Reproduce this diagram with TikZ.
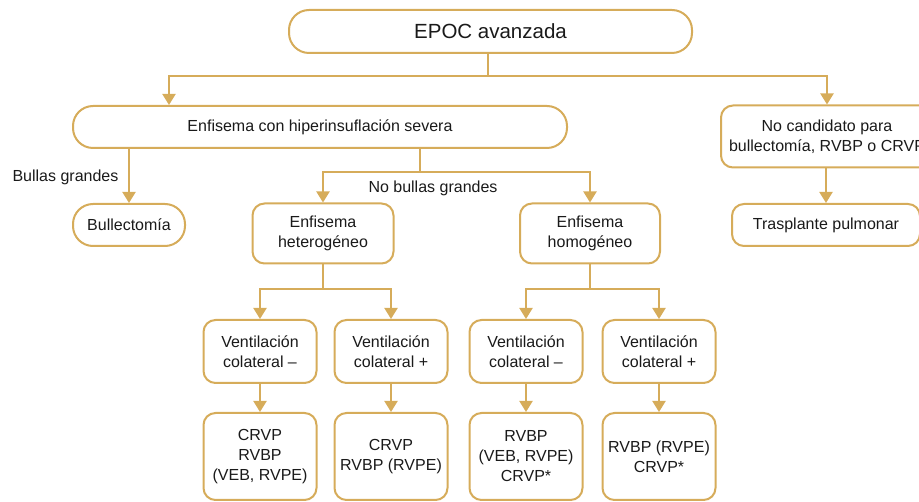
\documentclass[tikz,border=0pt]{standalone}
\usepackage{fontspec}
\setmainfont{Liberation Sans}
\usetikzlibrary{arrows.meta}
\definecolor{gold}{RGB}{214,172,90}
\definecolor{ink}{RGB}{26,26,26}
\begin{document}
\begin{tikzpicture}[x=1pt,y=-1pt,
 box/.style={draw=gold, line width=2pt, fill=white, align=center, inner sep=0pt, text=ink, font=\fontsize{16}{20}\selectfont},
 pill/.style={box, rounded corners=20pt},
 rbox/.style={box, rounded corners=12pt},
 conn/.style={draw=gold, line width=2pt},
 arr/.style={conn, -{Triangle[width=13pt,length=11pt]}},
 lbl/.style={text=ink, font=\fontsize{16}{20}\selectfont, inner sep=0pt}]
\useasboundingbox (0,0) rectangle (919,502);
\clip (0,0) rectangle (919,502);
% nodes
\node[pill, minimum width=403pt, minimum height=43pt, font=\fontsize{20.5}{24}\selectfont] (epoc) at (490.5,31.5) {EPOC avanzada};
\node[pill, minimum width=494pt, minimum height=42pt] (enf) at (320,127) {Enfisema con hiperinsuflación severa};
\node[rbox, minimum width=212pt, minimum height=62pt] (nocand) at (827,136.5) {No candidato para\\bullectomía, RVBP o CRVP};
\node[pill, minimum width=112pt, minimum height=42pt] (bull) at (129,225) {Bullectomía};
\node[rbox, minimum width=141pt, minimum height=60pt] (het) at (323,233.5) {Enfisema\\heterogéneo};
\node[rbox, minimum width=140pt, minimum height=60pt] (hom) at (590,233.5) {Enfisema\\homogéneo};
\node[rbox, minimum width=188pt, minimum height=42pt] (trasp) at (826,225) {Trasplante pulmonar};
\node[rbox, minimum width=113pt, minimum height=63pt] (v1) at (260,351.5) {Ventilación\\colateral –};
\node[rbox, minimum width=113pt, minimum height=63pt] (v2) at (391,351.5) {Ventilación\\colateral +};
\node[rbox, minimum width=113pt, minimum height=63pt] (v3) at (526,351.5) {Ventilación\\colateral –};
\node[rbox, minimum width=113pt, minimum height=63pt] (v4) at (659,351.5) {Ventilación\\colateral +};
\node[rbox, minimum width=113pt, minimum height=87pt] (b1) at (260,456.5) {CRVP\\RVBP\\(VEB, RVPE)};
\node[rbox, minimum width=113pt, minimum height=87pt] (b2) at (391,456.5) {CRVP\\RVBP (RVPE)};
\node[rbox, minimum width=113pt, minimum height=87pt] (b3) at (526,456.5) {RVBP\\(VEB, RVPE)\\CRVP*};
\node[rbox, minimum width=113pt, minimum height=87pt] (b4) at (659,456.5) {RVBP (RVPE)\\CRVP*};
% labels
\node[lbl] (lb1) at (65.5,177) {Bullas grandes};
\node[lbl] (lb2) at (433,188) {No bullas grandes};
% connectors
\coordinate (s1) at (488,76);
\coordinate (c169) at (169,0);
\draw[conn] (epoc.south -| s1) -- (s1);
\draw[arr] (s1) -| (c169 |- enf.north);
\draw[arr] (s1) -| (nocand.north);
\draw[arr] (bull.north |- enf.south) -- (bull.north);
\coordinate (s2) at (420,172);
\draw[conn] (s2 |- enf.south) -- (s2);
\draw[arr] (s2) -| (het.north);
\draw[arr] (s2) -| (hom.north);
\coordinate (s3) at (323,289);
\draw[conn] (het.south) -- (s3);
\draw[arr] (s3) -| (v1.north);
\draw[arr] (s3) -| (v2.north);
\coordinate (s4) at (590,289);
\draw[conn] (hom.south) -- (s4);
\draw[arr] (s4) -| (v3.north);
\draw[arr] (s4) -| (v4.north);
\draw[arr] (v1) -- (b1);
\draw[arr] (v2) -- (b2);
\draw[arr] (v3) -- (b3);
\draw[arr] (v4) -- (b4);
\draw[arr] (nocand.south -| trasp.north) -- (trasp.north);
\end{tikzpicture}
\end{document}
